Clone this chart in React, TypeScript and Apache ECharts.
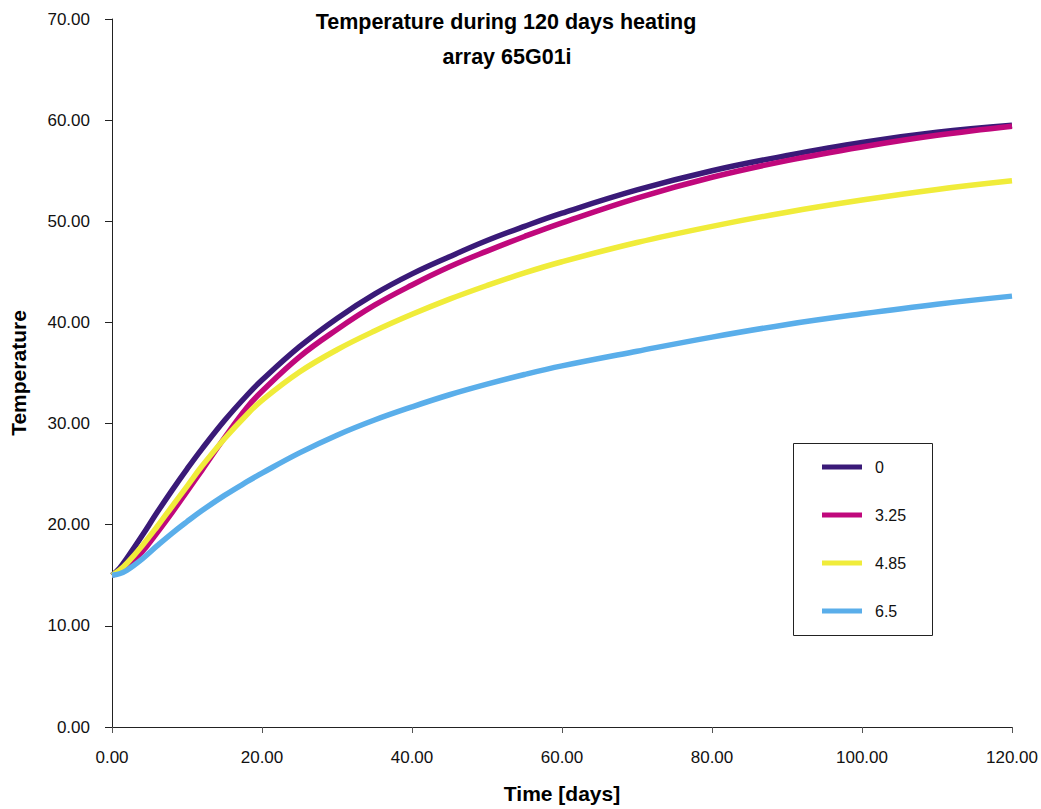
import React, { useEffect, useRef } from "react";
import * as echarts from "echarts";

// Sample days (x) shared by every series
const days = [0, 1, 2, 4, 6, 8, 10, 12, 15, 18, 20, 25, 30, 35, 40, 45, 50, 55, 60, 70, 80, 90, 100, 110, 120];

// Temperature per depth (legend names)
const seriesNames = ["0", "3.25", "4.85", "6.5"];
const temp0 = [15.0, 15.7, 16.7, 18.9, 21.2, 23.4, 25.5, 27.5, 30.3, 32.8, 34.3, 37.6, 40.4, 42.8, 44.8, 46.5, 48.1, 49.5, 50.8, 53.1, 55.0, 56.5, 57.8, 58.8, 59.5];
const temp325 = [15.0, 15.3, 15.9, 17.3, 19.2, 21.2, 23.3, 25.4, 28.6, 31.6, 33.2, 36.6, 39.3, 41.7, 43.7, 45.5, 47.05, 48.5, 49.85, 52.3, 54.35, 56.0, 57.35, 58.5, 59.4];
const temp485 = [15.0, 15.5, 16.2, 17.9, 19.8, 21.8, 23.8, 25.8, 28.5, 30.9, 32.3, 35.1, 37.3, 39.15, 40.8, 42.3, 43.65, 44.9, 46.0, 47.9, 49.5, 50.9, 52.1, 53.15, 54.0];
const temp65 = [15.0, 15.15, 15.5, 16.6, 17.9, 19.15, 20.3, 21.4, 22.9, 24.25, 25.1, 27.1, 28.85, 30.35, 31.65, 32.85, 33.9, 34.85, 35.7, 37.15, 38.55, 39.8, 40.85, 41.8, 42.6];
const seriesValues = [temp0, temp325, temp485, temp65];
const seriesColors = ["#3a1a78", "#c0087c", "#f0ec3a", "#5aaeea"];

// Axis ranges
const xMin = 0, xMax = 120, xStep = 20;
const yMin = 0, yMax = 70, yStep = 10;

const titleLines = ["Temperature during 120 days heating", "array 65G01i"];
const xName = "Time [days]";
const yName = "Temperature";

const FONT = "'Liberation Sans', Arial, Helvetica, sans-serif";

export default function App() {
  const ref = useRef<HTMLDivElement>(null);

  useEffect(() => {
    if (!ref.current) return;
    const chart = echarts.init(ref.current, null, { renderer: "svg" });

    const series = seriesNames.map((name, i) => ({
      name,
      type: "line",
      data: days.map((d, k) => [d, seriesValues[i][k]]),
      smooth: 0.4,
      showSymbol: false,
      symbol: "none",
      lineStyle: { width: 5.5, color: seriesColors[i] },
      itemStyle: { color: seriesColors[i] },
      z: 2 + i,
    }));

    chart.setOption({
      animation: false,
      backgroundColor: "#ffffff",
      textStyle: { fontFamily: FONT },
      title: [
        {
          text: titleLines[0],
          left: 501,
          top: 6,
          textAlign: "center",
          textStyle: { fontFamily: FONT, fontSize: 21.5, fontWeight: "bold", color: "#000" },
        },
        {
          text: titleLines[1],
          left: 502,
          top: 41,
          textAlign: "center",
          textStyle: { fontFamily: FONT, fontSize: 21.5, fontWeight: "bold", color: "#000" },
        },
      ],
      grid: { left: 111, right: 29, top: 19, bottom: 80, containLabel: false },
      xAxis: {
        type: "value",
        min: xMin,
        max: xMax,
        interval: xStep,
        name: xName,
        nameLocation: "middle",
        nameGap: 56,
        nameTextStyle: { fontFamily: FONT, fontSize: 21, fontWeight: "bold", color: "#000" },
        axisLine: { show: true, onZero: false, lineStyle: { color: "#222", width: 1 } },
        axisTick: { show: true, inside: false, length: 6, lineStyle: { color: "#555" } },
        axisLabel: {
          formatter: (v: number) => v.toFixed(2),
          fontFamily: FONT,
          fontSize: 17,
          color: "#111",
          margin: 22,
        },
        splitLine: { show: false },
      },
      yAxis: {
        type: "value",
        min: yMin,
        max: yMax,
        interval: yStep,
        name: yName,
        nameLocation: "middle",
        nameGap: 83,
        nameRotate: 90,
        nameTextStyle: { fontFamily: FONT, fontSize: 21, fontWeight: "bold", color: "#000" },
        axisLine: { show: true, lineStyle: { color: "#222", width: 1 } },
        axisTick: { show: true, inside: false, length: 7, lineStyle: { color: "#222" } },
        axisLabel: {
          formatter: (v: number) => v.toFixed(2),
          fontFamily: FONT,
          fontSize: 17,
          color: "#111",
          margin: 22,
        },
        splitLine: { show: false },
      },
      legend: {
        orient: "vertical",
        left: 822,
        top: 459,
        padding: 0,
        itemWidth: 40,
        itemHeight: 5,
        itemGap: 32,
        icon: "rect",
        selectedMode: false,
        textStyle: { fontFamily: FONT, fontSize: 16, color: "#111", lineHeight: 16, padding: [0, 0, 0, 8] },
        data: seriesNames,
      },
      graphic: [
        {
          type: "rect",
          shape: { x: 793.5, y: 443.5, width: 139, height: 192 },
          style: { fill: "none", stroke: "#222", lineWidth: 1 },
          z: 0,
          silent: true,
        },
      ],
      series,
    });

    return () => chart.dispose();
  }, []);

  return <div ref={ref} style={{ width: 1041, height: 809, position: "absolute", left: 0, top: 0 }} />;
}
